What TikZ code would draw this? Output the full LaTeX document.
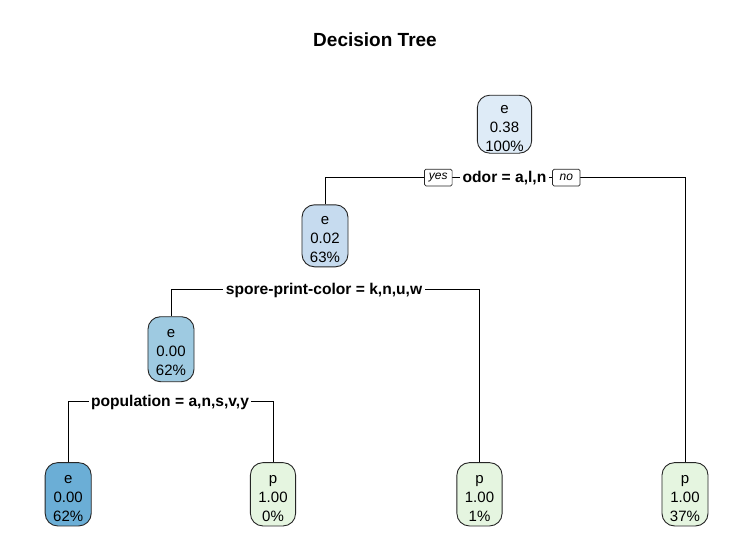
\documentclass[tikz,border=0pt]{standalone}
\usepackage{fontspec}
\setmainfont{Liberation Sans}
\usetikzlibrary{backgrounds}
\definecolor{bu1}{HTML}{DEEBF7}
\definecolor{bu2}{HTML}{C6DBEF}
\definecolor{bu3}{HTML}{9ECAE1}
\definecolor{bu4}{HTML}{6BAED6}
\definecolor{gn1}{HTML}{E5F5E0}
\begin{document}
\begin{tikzpicture}[x=1pt,y=-1pt,
  tnode/.style={draw=black!85, line width=0.9pt, rounded corners=12.5pt,
    inner xsep=8pt, inner ysep=0pt, align=center,
    font=\fontsize{15}{19}\selectfont, text height=58pt, text depth=4pt},
  leafnode/.style={tnode, text height=58.4pt, text depth=4.9pt},
  splitlab/.style={fill=white, inner xsep=2.5pt, inner ysep=1pt,
    font=\bfseries\fontsize{15.6}{18}\selectfont, anchor=base},
  yesno/.style={draw=black!85, fill=white, line width=0.7pt, rounded corners=1.5pt,
    font=\itshape\fontsize{12}{14}\selectfont, minimum height=16.7pt,
    minimum width=27.5pt, inner xsep=4.5pt, inner ysep=0pt},
  edge/.style={draw=black, line width=0.8pt},
  titlestyle/.style={font=\bfseries\fontsize{19}{23}\selectfont, anchor=base}]

\node[titlestyle] (title) at (375,46.7) {Decision Tree};

% inner nodes
\node[tnode, fill=bu1, text height=56.5pt, text depth=1.5pt] (root) at (504.5,124.2) {e\\0.38\\100\%};
\node[tnode, fill=bu2] (n2) at (325,235.8) {e\\0.02\\63\%};
\node[tnode, fill=bu3, text height=58.7pt, text depth=6.3pt] (n3) at (171,349.2) {e\\0.00\\62\%};

% leaves
\node[leafnode, fill=bu4] (leaf1) at (68.2,494.3) {e\\0.00\\62\%};
\node[leafnode, fill=gn1] (leaf2) at (273,494.3) {p\\1.00\\0\%};
\node[leafnode, fill=gn1] (leaf3) at (479.5,494.3) {p\\1.00\\1\%};
\node[leafnode, fill=gn1] (leaf4) at (685,494.3) {p\\1.00\\37\%};

% split points
\coordinate (s1) at (504.5,177.5);
\coordinate (s2) at (324,289.3);
\coordinate (s3) at (170,401);

% split labels
\node[splitlab] (l1) at ([yshift=-5.2pt]s1) {odor = a,l,n};
\node[splitlab] (l2) at ([yshift=-5.2pt]s2) {spore-print-color = k,n,u,w};
\node[splitlab] (l3) at ([yshift=-5.2pt]s3) {population = a,n,s,v,y};

\node[yesno] (yes) at (438.3,177.6) {yes};
\node[yesno] (no) at (566.3,177.6) {no};

\begin{scope}[on background layer]
  \fill[white] (0,0) rectangle (753,560);
  \draw[edge] (n2.north) |- (s1) -| (leaf4.north);
  \draw[edge] (n3.north) |- (s2) -| (leaf3.north);
  \draw[edge] (leaf1.north) |- (s3) -| (leaf2.north);
\end{scope}
\useasboundingbox (0,0) rectangle (753,560);
\end{tikzpicture}
\end{document}
